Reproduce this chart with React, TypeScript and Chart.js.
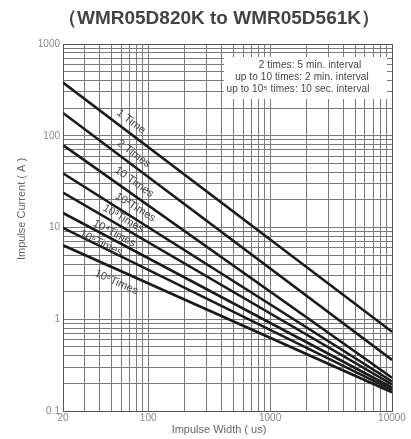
import React, { useEffect, useRef } from "react";
import { Chart, registerables } from "chart.js";

Chart.register(...registerables);

// ---- data ----
const pulseWidthsUs = [20, 10000];
const seriesNames = ["1 Time", "2 Times", "10 Times", "10²Times", "10³Times", "10⁴Times", "10⁵Times", "10⁶Times"];
const currentAtStart = [380, 177, 79, 39, 24, 14.4, 9.9, 6.4];
const currentAtEnd = [0.73, 0.36, 0.23, 0.21, 0.195, 0.18, 0.17, 0.16];
const labelWidthUs = [64.5, 68, 68, 71, 58, 50, 40, 60];
const labelGapPx = [10, 10, 11, 10, 8, 6, 3, -12];

const yDecades = [0.1, 1, 10, 100];
const xDecades = [10, 100, 1000];
const gridMultipliers = [1, 2, 3, 4, 5, 6, 7, 8, 9];
const yTickValues = [0.1, 1, 10, 100, 1000];
const yTickLabels = ["0.1", "1", "10", "100", "1000"];
const xTickValues = [20, 100, 1000, 10000];
const xTickLabels = ["20", "100", "1000", "10000"];

const titleText = "（WMR05D820K to WMR05D561K）";
const yTitle = "Impulse Current ( A )";
const xTitle = "Impulse Width ( us)";
const noteLines = ["2 times: 5 min. interval", "up to 10 times: 2 min. interval", "up to 10⁵ times: 10 sec. interval"];

const FONT = "'Liberation Sans', Arial, sans-serif";

const yGrid = [...yDecades.flatMap((d) => gridMultipliers.map((m) => +(d * m).toPrecision(6))), 1000];
const xGrid = [
  ...xDecades.flatMap((d) => gridMultipliers.map((m) => d * m)).filter((v) => v >= 20),
  10000,
];

function labelFor(values: number[], labels: string[], v: number) {
  for (let i = 0; i < values.length; i++) {
    if (Math.abs(values[i] - v) / values[i] < 1e-6) return labels[i];
  }
  return "";
}

const decorPlugin = {
  id: "decor",
  beforeDatasetsDraw(chart: any) {
    const { ctx, chartArea } = chart;
    ctx.save();
    // note box
    ctx.fillStyle = "#ffffff";
    ctx.fillRect(224, 57, 163, 42);
    ctx.fillStyle = "#444";
    ctx.font = `10px ${FONT}`;
    try { (ctx as any).letterSpacing = "0.1px"; } catch (e) {}
    ctx.textAlign = "center";
    ctx.textBaseline = "middle";
    const ys = [65, 77, 89];
    const xs = [310, 302, 298];
    noteLines.forEach((t, i) => ctx.fillText(t, xs[i], ys[i]));
    try { (ctx as any).letterSpacing = "0px"; } catch (e) {}
    // border
    ctx.strokeStyle = "#555";
    ctx.lineWidth = 1;
    ctx.strokeRect(chartArea.left + 0.5, chartArea.top + 0.5, chartArea.right - chartArea.left, chartArea.bottom - chartArea.top);
    ctx.restore();
  },
  afterDatasetsDraw(chart: any) {
    const { ctx } = chart;
    const xs = chart.scales.x;
    const ys = chart.scales.y;
    ctx.save();
    // line labels
    ctx.fillStyle = "#444";
    ctx.font = `11px ${FONT}`;
    ctx.textAlign = "center";
    ctx.textBaseline = "middle";
    seriesNames.forEach((name, i) => {
      const x1 = xs.getPixelForValue(pulseWidthsUs[0]);
      const x2 = xs.getPixelForValue(pulseWidthsUs[1]);
      const y1 = ys.getPixelForValue(currentAtStart[i]);
      const y2 = ys.getPixelForValue(currentAtEnd[i]);
      const ang = Math.atan2(y2 - y1, x2 - x1);
      const px = xs.getPixelForValue(labelWidthUs[i]);
      const py = y1 + ((px - x1) / (x2 - x1)) * (y2 - y1);
      const d = labelGapPx[i];
      const cx = px + d * Math.sin(ang);
      const cy = py - d * Math.cos(ang);
      ctx.save();
      ctx.translate(cx, cy);
      ctx.rotate(ang);
      ctx.fillText(name, 0, 0);
      ctx.restore();
    });
    // title
    ctx.fillStyle = "#444";
    ctx.font = `bold 19px ${FONT}`;
    ctx.fillText(titleText, 219, 19);
    // axis titles
    ctx.fillStyle = "#666";
    ctx.font = `11px ${FONT}`;
    ctx.fillText(xTitle, 219, 430);
    ctx.save();
    ctx.translate(22, 209);
    ctx.rotate(-Math.PI / 2);
    ctx.fillText(yTitle, 0, 0);
    ctx.restore();
    ctx.restore();
  },
};

export default function App() {
  const ref = useRef<HTMLCanvasElement | null>(null);
  useEffect(() => {
    if (!ref.current) return;
    const datasets = seriesNames.map((name, i) => ({
      label: name,
      data: pulseWidthsUs.map((w, j) => ({ x: w, y: j === 0 ? currentAtStart[i] : currentAtEnd[i] })),
      showLine: true,
      borderColor: "#1a1a1a",
      borderWidth: 2.6,
      pointRadius: 0,
      fill: false,
    }));
    const chart = new Chart(ref.current, {
      type: "scatter",
      data: { datasets },
      options: {
        animation: false,
        responsive: true,
        maintainAspectRatio: false,
        layout: { padding: { top: 44, right: 19, left: 0, bottom: 0 } },
        plugins: { legend: { display: false }, tooltip: { enabled: false }, title: { display: false } },
        scales: {
          x: {
            type: "logarithmic",
            min: 20,
            max: 10000,
            afterBuildTicks: (s: any) => {
              s.ticks = xGrid.map((v) => ({ value: v }));
            },
            afterFit: (s: any) => {
              s.height = 28;
            },
            ticks: {
              autoSkip: false,
              maxRotation: 0,
              padding: 1,
              color: "#888",
              font: { size: 10, family: FONT },
              callback: (v: any) => labelFor(xTickValues, xTickLabels, Number(v)),
            },
            grid: { color: "#7a7a7a", lineWidth: 1, drawTicks: false },
            border: { color: "#555" },
          },
          y: {
            type: "logarithmic",
            min: 0.1,
            max: 1000,
            afterBuildTicks: (s: any) => {
              s.ticks = yGrid.map((v) => ({ value: v }));
            },
            afterFit: (s: any) => {
              s.width = 63;
            },
            ticks: {
              autoSkip: false,
              padding: 3,
              color: "#888",
              font: { size: 10, family: FONT },
              callback: (v: any) => labelFor(yTickValues, yTickLabels, Number(v)),
            },
            grid: { color: "#7a7a7a", lineWidth: 1, drawTicks: false },
            border: { color: "#555" },
          },
        },
      },
      plugins: [decorPlugin],
    });
    return () => chart.destroy();
  }, []);
  return (
    <div style={{ position: "fixed", left: 0, top: 0, width: 411, height: 439, background: "#fff" }}>
      <canvas ref={ref} />
    </div>
  );
}
